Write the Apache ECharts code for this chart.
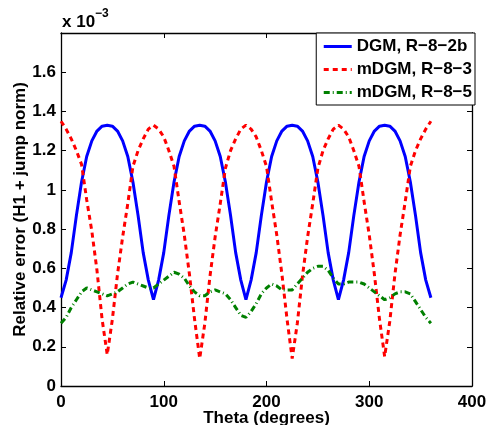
<!DOCTYPE html>
<html>
<head>
<meta charset="utf-8">
<script src="https://cdn.jsdelivr.net/npm/echarts@6/dist/echarts.min.js"></script>
<style>
html,body{margin:0;padding:0;background:#fff;}
#chart{width:487px;height:425px;}
</style>
</head>
<body>
<div id="chart"></div>
<script>
// Theta (degrees)
var theta = [0,5,10,15,20,25,30,35,40,45,50,55,60,65,70,75,80,85,90,
  95,100,105,110,115,120,125,130,135,140,145,150,155,160,165,170,175,180,
  185,190,195,200,205,210,215,220,225,230,235,240,245,250,255,260,265,270,
  275,280,285,290,295,300,305,310,315,320,325,330,335,340,345,350,355,360];

// values in units of 1e-3
var dgm_R82b = [0.45,0.54,0.68,0.87,1.04,1.17,1.25,1.30,1.325,1.33,1.325,1.30,1.25,1.17,1.04,0.87,0.68,0.54,0.44,
  0.54,0.68,0.87,1.04,1.17,1.25,1.30,1.325,1.33,1.325,1.30,1.25,1.17,1.04,0.87,0.68,0.54,0.44,
  0.54,0.68,0.87,1.04,1.17,1.25,1.30,1.325,1.33,1.325,1.30,1.25,1.17,1.04,0.87,0.68,0.54,0.44,
  0.54,0.68,0.87,1.04,1.17,1.25,1.30,1.325,1.33,1.325,1.30,1.25,1.17,1.04,0.87,0.68,0.54,0.45];

var mdgm_R83 = [1.35,1.31,1.26,1.20,1.13,0.95,0.79,0.59,0.34,0.16,0.34,0.57,0.76,0.93,1.12,1.20,1.26,1.31,1.33,
  1.31,1.27,1.20,1.12,0.94,0.77,0.57,0.34,0.14,0.32,0.56,0.76,0.93,1.11,1.20,1.26,1.31,1.33,
  1.31,1.27,1.20,1.12,0.94,0.77,0.57,0.34,0.14,0.32,0.56,0.76,0.93,1.11,1.20,1.26,1.31,1.33,
  1.31,1.27,1.20,1.12,0.94,0.77,0.57,0.34,0.15,0.33,0.57,0.77,0.94,1.12,1.20,1.26,1.31,1.35];

var mdgm_R85 = [0.32,0.35,0.40,0.44,0.48,0.50,0.49,0.48,0.47,0.46,0.47,0.48,0.50,0.52,0.53,0.52,0.51,0.50,0.50,
  0.52,0.54,0.56,0.58,0.57,0.55,0.51,0.48,0.46,0.46,0.48,0.49,0.48,0.47,0.44,0.40,0.36,0.35,
  0.38,0.42,0.47,0.50,0.52,0.51,0.49,0.49,0.49,0.52,0.55,0.58,0.60,0.61,0.61,0.59,0.55,0.52,
  0.52,0.53,0.53,0.53,0.52,0.50,0.48,0.46,0.44,0.45,0.47,0.48,0.48,0.47,0.43,0.39,0.35,0.32];

var seriesNames = ['DGM, R\u22128\u22122b','mDGM, R\u22128\u22123','mDGM, R\u22128\u22125'];
var xTicks = [0,100,200,300,400];

function pairs(ys){ return theta.map(function(t,i){ return [t, ys[i]]; }); }

var FONT = 'Liberation Sans, Arial, Helvetica, sans-serif';
var chart = echarts.init(document.getElementById('chart'), null, {renderer:'canvas'});

var axisLineStyle = {color:'#000', width:1.3};
var option = {
  backgroundColor:'#fff',
  animation:false,
  textStyle:{fontFamily:FONT},
  grid:{left:61, right:15, top:33, bottom:39, containLabel:false, outerBoundsMode:'none'},
  xAxis:[{
    type:'value', min:0, max:400, interval:100, position:'bottom',
    name:'Theta (degrees)', nameLocation:'middle', nameGap:24, nameMoveOverlap:false,
    nameTextStyle:{color:'#000', fontSize:17, fontWeight:'bold', fontFamily:FONT},
    axisLine:{show:true, onZero:false, lineStyle:axisLineStyle},
    axisTick:{show:true, inside:true, length:5, lineStyle:{color:'#000', width:1}},
    axisLabel:{color:'#000', fontSize:17, fontWeight:'bold', fontFamily:FONT, margin:8},
    splitLine:{show:false}
  },{
    type:'value', min:0, max:400, interval:100, position:'top',
    axisLine:{show:true, onZero:false, lineStyle:axisLineStyle},
    axisTick:{show:true, inside:true, length:5, lineStyle:{color:'#000', width:1}},
    axisLabel:{show:false}, splitLine:{show:false}
  }],
  yAxis:[{
    type:'value', min:0, max:1.8, interval:0.2, position:'left',
    name:'Relative error (H1 + jump norm)', nameLocation:'middle', nameGap:32, nameMoveOverlap:false,
    nameTextStyle:{color:'#000', fontSize:17, fontWeight:'bold', fontFamily:FONT},
    axisLine:{show:true, onZero:false, lineStyle:axisLineStyle},
    axisTick:{show:true, inside:true, length:5, lineStyle:{color:'#000', width:1}},
    axisLabel:{color:'#000', fontSize:17, fontWeight:'bold', fontFamily:FONT, margin:5,
      formatter:function(v){ if (v > 1.7) return ''; return String(Math.round(v*10)/10); }},
    splitLine:{show:false}
  },{
    type:'value', min:0, max:1.8, interval:0.2, position:'right',
    axisLine:{show:true, onZero:false, lineStyle:axisLineStyle},
    axisTick:{show:true, inside:true, length:5, lineStyle:{color:'#000', width:1}},
    axisLabel:{show:false}, splitLine:{show:false}
  }],
  legend:{
    show:true, orient:'vertical', right:12, top:33,
    backgroundColor:'#fff', borderColor:'#000', borderWidth:1,
    padding:[5,3,4,6], itemGap:6, itemWidth:28, itemHeight:16,
    itemStyle:{opacity:0}, lineStyle:{width:3},
    textStyle:{color:'#000', fontSize:17, fontWeight:'bold', fontFamily:FONT},
    data:seriesNames
  },
  graphic:[
    {type:'text', left:62, top:14, style:{text:'x 10', fill:'#000', font:'bold 17px '+FONT}},
    {type:'text', left:95, top:8, style:{text:'\u22123', fill:'#000', font:'bold 12px '+FONT}}
  ],
  series:[
    {name:seriesNames[0], type:'line', data:pairs(dgm_R82b), symbol:'none', smooth:false,
     lineStyle:{color:'#0000ff', width:3}, itemStyle:{color:'#0000ff'}, z:3},
    {name:seriesNames[1], type:'line', data:pairs(mdgm_R83), symbol:'none', smooth:false,
     lineStyle:{color:'#ff0000', width:3, type:[5,4]}, itemStyle:{color:'#ff0000'}, z:4},
    {name:seriesNames[2], type:'line', data:pairs(mdgm_R85), symbol:'none', smooth:false,
     lineStyle:{color:'#008000', width:3, type:[6,3,1,3]}, itemStyle:{color:'#008000'}, z:5}
  ]
};
chart.setOption(option);
</script>
</body>
</html>
